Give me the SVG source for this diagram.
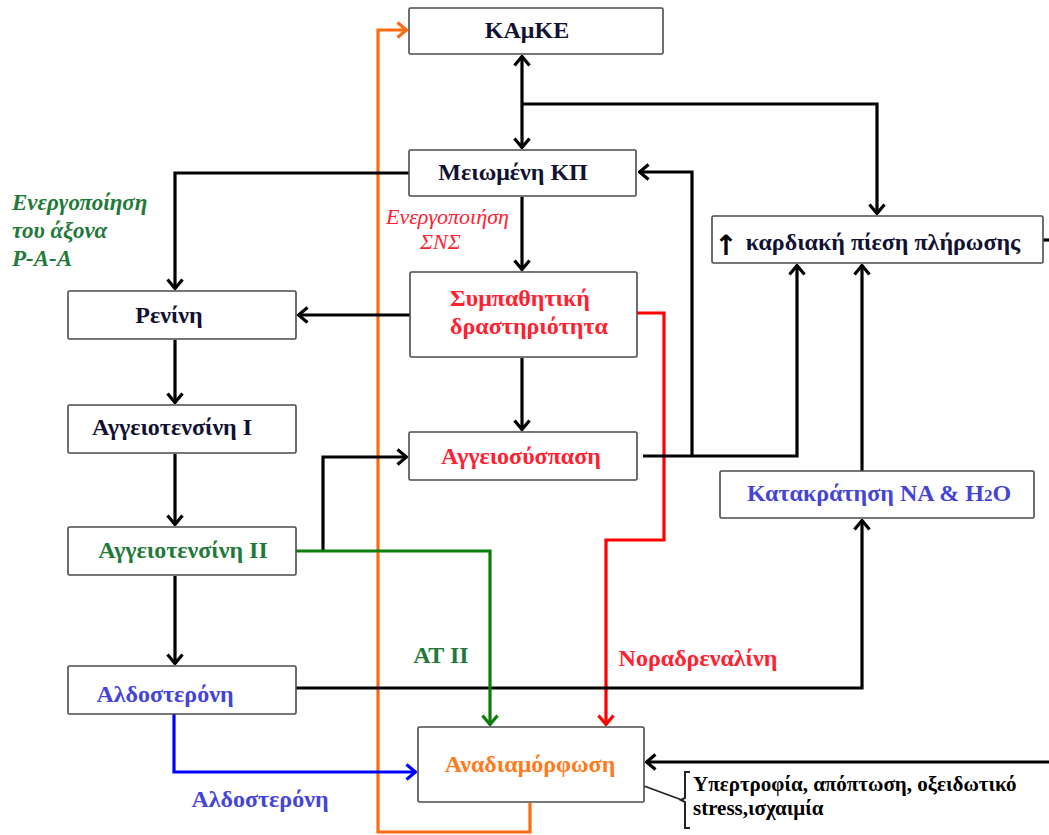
<svg xmlns="http://www.w3.org/2000/svg" width="1049" height="835" viewBox="0 0 1049 835">
  <defs>
    <style>
      .box { fill: #ffffff; stroke: #4a4a4a; stroke-width: 1.6; }
      .lbl { font-family: "Liberation Serif", "Times New Roman", serif; font-weight: bold; font-size: 24px; text-anchor: middle; }
      .k { fill: #111133; }
      .red { fill: #ff2030; }
      .grn { fill: #1f7a3a; }
      .blu { fill: #4444d8; }
      .org { fill: #ff7a1a; }
      .ln { fill: none; stroke-width: 3.2; stroke-linejoin: miter; }
      .lk { stroke: #000000; }
      .lo { stroke: #ff6a10; }
      .lr { stroke: #ff0000; }
      .lg { stroke: #0a7d0a; }
      .lb { stroke: #0000ff; }
      .note { font-family: "Liberation Serif", "Times New Roman", serif; font-style: italic; }
      .mech { font-family: "Liberation Serif", "Times New Roman", serif; font-weight: bold; font-size: 21px; fill: #000000; }
    </style>
    <marker id="ak" viewBox="0 0 12 18" refX="11" refY="9" markerWidth="12" markerHeight="18" markerUnits="userSpaceOnUse" orient="auto-start-reverse">
      <path d="M1.5,1.5 L10.5,9 L1.5,16.5" fill="none" stroke="#000000" stroke-width="3.2"/>
    </marker>
    <marker id="ao" viewBox="0 0 12 18" refX="11" refY="9" markerWidth="12" markerHeight="18" markerUnits="userSpaceOnUse" orient="auto">
      <path d="M1.5,1.5 L10.5,9 L1.5,16.5" fill="none" stroke="#ff6a10" stroke-width="3.2"/>
    </marker>
    <marker id="ar" viewBox="0 0 12 18" refX="11" refY="9" markerWidth="12" markerHeight="18" markerUnits="userSpaceOnUse" orient="auto">
      <path d="M1.5,1.5 L10.5,9 L1.5,16.5" fill="none" stroke="#ff0000" stroke-width="3.2"/>
    </marker>
    <marker id="ag" viewBox="0 0 12 18" refX="11" refY="9" markerWidth="12" markerHeight="18" markerUnits="userSpaceOnUse" orient="auto">
      <path d="M1.5,1.5 L10.5,9 L1.5,16.5" fill="none" stroke="#0a7d0a" stroke-width="3.2"/>
    </marker>
    <marker id="ab" viewBox="0 0 12 18" refX="11" refY="9" markerWidth="12" markerHeight="18" markerUnits="userSpaceOnUse" orient="auto">
      <path d="M1.5,1.5 L10.5,9 L1.5,16.5" fill="none" stroke="#0000ff" stroke-width="3.2"/>
    </marker>
  </defs>

  <rect width="1049" height="835" fill="#ffffff"/>

  <!-- connectors -->
  <g id="connectors">
    <!-- feedback from remodelling to heart failure -->
    <path class="ln lo" d="M530,803 V832 H378 V30 H407" marker-end="url(#ao)"/>
    <!-- ΚΑμΚΕ <-> reduced BP -->
    <path class="ln lk" d="M522,56 V148" marker-start="url(#ak)" marker-end="url(#ak)"/>
    <path class="ln lk" d="M522,104 H877 V214" marker-end="url(#ak)"/>
    <!-- reduced BP -> renin -->
    <path class="ln lk" d="M409,173 H175 V289" marker-end="url(#ak)"/>
    <!-- reduced BP -> sympathetic -->
    <path class="ln lk" d="M522,197 V270" marker-end="url(#ak)"/>
    <!-- sympathetic -> renin -->
    <path class="ln lk" d="M410,315 H298" marker-end="url(#ak)"/>
    <!-- sympathetic -> vasoconstriction -->
    <path class="ln lk" d="M522,358 V430" marker-end="url(#ak)"/>
    <!-- noradrenaline -->
    <path class="ln lr" d="M637,313 H664 V540 H606 V725" marker-end="url(#ar)"/>
    <!-- vasoconstriction -> filling pressure -->
    <path class="ln lk" d="M643,456 H797 V265" marker-end="url(#ak)"/>
    <!-- vasoconstriction -> reduced BP -->
    <path class="ln lk" d="M692,456 V172 H639" marker-end="url(#ak)"/>
    <!-- retention -> filling pressure -->
    <path class="ln lk" d="M862,471 V265" marker-end="url(#ak)"/>
    <!-- aldosterone -> retention -->
    <path class="ln lk" d="M296,688 H862 V520" marker-end="url(#ak)"/>
    <!-- angiotensin II -> vasoconstriction -->
    <path class="ln lk" d="M323,551 V457 H407" marker-end="url(#ak)"/>
    <!-- AT II -> remodelling -->
    <path class="ln lg" d="M296,551 H490 V725" marker-end="url(#ag)"/>
    <!-- RAA chain -->
    <path class="ln lk" d="M175,340 V403" marker-end="url(#ak)"/>
    <path class="ln lk" d="M175,454 V525" marker-end="url(#ak)"/>
    <path class="ln lk" d="M175,576 V664" marker-end="url(#ak)"/>
    <!-- aldosterone -> remodelling -->
    <path class="ln lb" d="M174,714 V772 H416" marker-end="url(#ab)"/>
    <!-- filling pressure -> remodelling -->
    <path class="ln lk" d="M1049,762 H646" marker-end="url(#ak)"/>
    <path class="ln lk" d="M1043,240 H1049"/>
    <!-- brace for remodelling mechanisms -->
    <path d="M644,786 L682,800" fill="none" stroke="#222222" stroke-width="1.8"/>
    <path d="M690,772 H685 V798 L681,800 L685,802 V828 H690" fill="none" stroke="#222222" stroke-width="2"/>
  </g>

  <!-- nodes -->
  <g id="kamke">
    <rect class="box" x="409" y="8" width="254" height="46" rx="1.5"/>
    <text class="lbl k" x="527" y="38">ΚΑμΚΕ</text>
  </g>
  <g id="meiomeni-kp">
    <rect class="box" x="409" y="150" width="227" height="46" rx="1.5"/>
    <text class="lbl k" x="513" y="180">Μειωμένη ΚΠ</text>
  </g>
  <g id="sympathetiki">
    <rect class="box" x="410" y="272" width="227" height="85" rx="1.5"/>
    <text class="lbl red" x="520" y="306">Συμπαθητική</text>
    <text class="lbl red" x="529" y="334">δραστηριότητα</text>
  </g>
  <g id="aggeiosyspasi">
    <rect class="box" x="409" y="432" width="228" height="48" rx="1.5"/>
    <text class="lbl red" x="521" y="464">Αγγειοσύσπαση</text>
  </g>
  <g id="kardiaki-piesi">
    <rect class="box" x="712" y="216" width="331" height="47" rx="1.5"/>
    <text x="726" y="255" font-family="DejaVu Sans, sans-serif" font-weight="bold" font-size="28" text-anchor="middle" fill="#000000">↑</text>
    <text class="lbl k" x="883" y="250">καρδιακή πίεση πλήρωσης</text>
  </g>
  <g id="katakratisi">
    <rect class="box" x="720" y="471" width="314" height="47" rx="1.5"/>
    <text class="lbl blu" x="879" y="501">Κατακράτηση ΝΑ &amp; Η<tspan font-size="17">2</tspan>Ο</text>
  </g>
  <g id="renini">
    <rect class="box" x="68" y="291" width="228" height="48" rx="1.5"/>
    <text class="lbl k" x="169" y="323">Ρενίνη</text>
  </g>
  <g id="aggeiotensini-1">
    <rect class="box" x="68" y="405" width="228" height="48" rx="1.5"/>
    <text class="lbl k" x="172" y="435">Αγγειοτενσίνη Ι</text>
  </g>
  <g id="aggeiotensini-2">
    <rect class="box" x="68" y="527" width="228" height="48" rx="1.5"/>
    <text class="lbl grn" x="183" y="558">Αγγειοτενσίνη ΙΙ</text>
  </g>
  <g id="aldosteroni">
    <rect class="box" x="68" y="666" width="228" height="48" rx="1.5"/>
    <text class="lbl blu" x="165" y="702">Αλδοστερόνη</text>
  </g>
  <g id="anadiamorfosi">
    <rect class="box" x="418" y="727" width="226" height="75" rx="1.5"/>
    <text class="lbl org" x="530" y="772">Αναδιαμόρφωση</text>
  </g>

  <!-- free labels -->
  <g id="labels">
    <text class="note grn" font-weight="bold" font-size="23" x="12" y="210">Ενεργοποίηση</text>
    <text class="note grn" font-weight="bold" font-size="23" x="12" y="238">του άξονα</text>
    <text class="note grn" font-weight="bold" font-size="23" x="12" y="266">Ρ-Α-Α</text>
    <text class="note red" font-size="22" x="386" y="224">Ενεργοποιήση</text>
    <text class="note red" font-size="22" x="420" y="249">ΣΝΣ</text>
    <text class="lbl grn" x="441" y="663">ΑΤ ΙΙ</text>
    <text class="lbl red" x="698" y="666">Νοραδρεναλίνη</text>
    <text class="lbl blu" x="260" y="807">Αλδοστερόνη</text>
    <text class="mech" x="693" y="791">Υπερτροφία, απόπτωση, οξειδωτικό</text>
    <text class="mech" x="693" y="815">stress,ισχαιμία</text>
  </g>
</svg>
